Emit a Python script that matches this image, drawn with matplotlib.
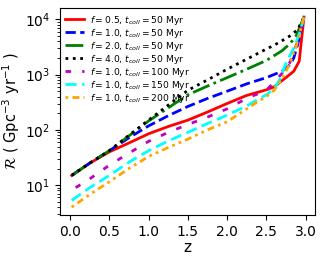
import matplotlib
matplotlib.use("Agg")
import matplotlib.pyplot as plt

# ---- data ----
z_red = [0.02, 0.25, 0.5, 0.75, 1.0, 1.25, 1.5, 1.75, 2.0, 2.25, 2.5, 2.6, 2.68, 2.75, 2.85, 2.92, 2.98]
r_red = [15, 25, 40, 58, 85, 115, 150, 210, 300, 420, 530, 600, 740, 880, 1150, 1750, 11000]

z_blue = [0.02, 0.25, 0.5, 0.75, 1.0, 1.25, 1.5, 1.75, 2.0, 2.25, 2.5, 2.7, 2.8, 2.85, 2.9, 2.98]
r_blue = [15, 25, 42, 72, 118, 180, 265, 370, 500, 680, 880, 1150, 1500, 2000, 3500, 11000]

z_green = [0.02, 0.25, 0.5, 0.75, 1.0, 1.25, 1.5, 1.75, 2.0, 2.25, 2.5, 2.7, 2.8, 2.88, 2.98]
r_green = [15, 25, 42, 78, 145, 250, 430, 620, 880, 1250, 1800, 2700, 3600, 5000, 11000]

z_black = [0.02, 0.25, 0.5, 0.75, 1.0, 1.25, 1.5, 1.75, 2.0, 2.25, 2.5, 2.6, 2.7, 2.8, 2.9, 2.98]
r_black = [15, 25, 42, 80, 150, 280, 520, 800, 1250, 1900, 2900, 3400, 4100, 5000, 6500, 11000]

z_mag = [0.07, 0.25, 0.5, 0.75, 1.0, 1.25, 1.5, 1.75, 2.0, 2.25, 2.5, 2.58, 2.7, 2.8, 2.9, 2.98]
r_mag = [9, 13, 23, 38, 62, 90, 125, 170, 240, 370, 520, 680, 1050, 1650, 4000, 11000]

z_cyan = [0.02, 0.25, 0.5, 0.75, 1.0, 1.25, 1.5, 1.75, 2.0, 2.25, 2.4, 2.5, 2.6, 2.67, 2.75, 2.86, 2.93, 2.98]
r_cyan = [5.3, 9, 15, 26, 42, 63, 90, 130, 185, 270, 360, 430, 560, 800, 1600, 3200, 6000, 11000]

z_orange = [0.02, 0.25, 0.5, 0.75, 1.0, 1.25, 1.5, 1.75, 2.0, 2.25, 2.4, 2.5, 2.6, 2.71, 2.8, 2.88, 2.98]
r_orange = [4, 6.8, 11.5, 20, 33, 48, 68, 100, 140, 240, 330, 400, 520, 880, 1600, 3200, 11000]

labels = [
    r"$f=0.5$, $t_{coll}=50$ Myr",
    r"$f=1.0$, $t_{coll}=50$ Myr",
    r"$f=2.0$, $t_{coll}=50$ Myr",
    r"$f=4.0$, $t_{coll}=50$ Myr",
    r"$f=1.0$, $t_{coll}=100$ Myr",
    r"$f=1.0$, $t_{coll}=150$ Myr",
    r"$f=1.0$, $t_{coll}=200$ Myr",
]

series = [
    (z_red, r_red, "red", "-"),
    (z_blue, r_blue, "blue", "--"),
    (z_green, r_green, "green", "-."),
    (z_black, r_black, "black", ":"),
    (z_mag, r_mag, "m", (0, (2, 4))),
    (z_cyan, r_cyan, "cyan", (0, (4, 2))),
    (z_orange, r_orange, "orange", (0, (1, 1.5, 2.5, 1.5, 1, 1.5))),
]

fig = plt.figure(figsize=(3.24, 2.60), dpi=100)
ax = fig.add_axes([0.185, 0.173, 0.787, 0.796])

for (zz, rr, c, ls), lab in zip(series, labels):
    ax.plot(zz, rr, color=c, linestyle=ls, lw=2, label=lab)

ax.set_yscale("log")
ax.set_xlim(-0.13, 3.12)
ax.set_ylim(2.88, 16000)
ax.set_xticks([0.0, 0.5, 1.0, 1.5, 2.0, 2.5, 3.0])
ax.tick_params(axis="both", which="major", labelsize=10)
ax.set_xlabel("z", fontsize=11, labelpad=1)
ax.set_ylabel(r"$\mathcal{R}$ ( Gpc$^{-3}$ yr$^{-1}$ )", fontsize=10.5)
ax.yaxis.set_label_coords(-0.148, 0.5)

ax.legend(loc="upper left", fontsize=6.6, frameon=False, handlelength=2.0,
          handletextpad=0.7, labelspacing=0.0, borderaxespad=0.25,
          borderpad=0.35)

fig.savefig("out.png", dpi=100)
